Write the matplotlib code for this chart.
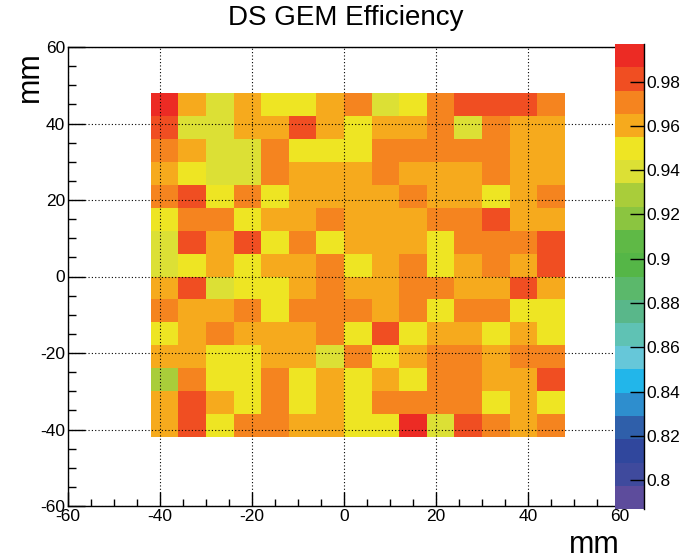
import matplotlib
matplotlib.use("Agg")
import matplotlib.pyplot as plt
import numpy as np
from matplotlib.colors import ListedColormap, BoundaryNorm
from matplotlib.ticker import MultipleLocator, FuncFormatter

plt.rcParams['font.family'] = ['Liberation Sans', 'DejaVu Sans']
plt.rcParams['axes.unicode_minus'] = False

# ---- data ----
x_bin_edges = [-42, -36, -30, -24, -18, -12, -6, 0, 6, 12, 18, 24, 30, 36, 42, 48]
y_bin_edges = [-42, -36, -30, -24, -18, -12, -6, 0, 6, 12, 18, 24, 30, 36, 42, 48]

# efficiency rows, listed from top (y 42..48) to bottom (y -42..-36)
row_y45 = [0.992, 0.960, 0.939, 0.960, 0.950, 0.950, 0.960, 0.971, 0.939, 0.950, 0.971, 0.981, 0.981, 0.981, 0.971]
row_y39 = [0.981, 0.939, 0.939, 0.960, 0.960, 0.981, 0.960, 0.950, 0.960, 0.960, 0.971, 0.939, 0.971, 0.960, 0.960]
row_y33 = [0.971, 0.960, 0.939, 0.939, 0.971, 0.950, 0.950, 0.950, 0.971, 0.971, 0.971, 0.971, 0.971, 0.960, 0.960]
row_y27 = [0.960, 0.950, 0.939, 0.939, 0.971, 0.960, 0.960, 0.960, 0.971, 0.960, 0.960, 0.960, 0.971, 0.960, 0.960]
row_y21 = [0.971, 0.981, 0.950, 0.971, 0.950, 0.960, 0.960, 0.960, 0.960, 0.971, 0.960, 0.960, 0.950, 0.960, 0.971]
row_y15 = [0.950, 0.971, 0.971, 0.950, 0.960, 0.960, 0.971, 0.960, 0.960, 0.960, 0.971, 0.971, 0.981, 0.960, 0.960]
row_y9 = [0.939, 0.981, 0.960, 0.981, 0.950, 0.971, 0.950, 0.960, 0.960, 0.960, 0.950, 0.971, 0.971, 0.971, 0.981]
row_y3 = [0.939, 0.950, 0.960, 0.950, 0.960, 0.960, 0.971, 0.950, 0.960, 0.971, 0.950, 0.960, 0.971, 0.960, 0.981]
row_ym3 = [0.960, 0.981, 0.939, 0.950, 0.950, 0.960, 0.971, 0.960, 0.960, 0.971, 0.971, 0.960, 0.960, 0.981, 0.960]
row_ym9 = [0.971, 0.960, 0.960, 0.971, 0.950, 0.971, 0.971, 0.971, 0.960, 0.971, 0.950, 0.971, 0.971, 0.950, 0.950]
row_ym15 = [0.950, 0.960, 0.971, 0.960, 0.960, 0.960, 0.971, 0.950, 0.981, 0.950, 0.960, 0.960, 0.950, 0.960, 0.950]
row_ym21 = [0.960, 0.960, 0.950, 0.950, 0.960, 0.960, 0.939, 0.971, 0.950, 0.960, 0.971, 0.971, 0.960, 0.971, 0.971]
row_ym27 = [0.929, 0.971, 0.950, 0.950, 0.971, 0.950, 0.960, 0.950, 0.960, 0.950, 0.971, 0.971, 0.960, 0.960, 0.981]
row_ym33 = [0.960, 0.981, 0.960, 0.950, 0.971, 0.950, 0.960, 0.950, 0.971, 0.971, 0.971, 0.971, 0.950, 0.960, 0.950]
row_ym39 = [0.960, 0.981, 0.950, 0.971, 0.971, 0.960, 0.960, 0.950, 0.950, 0.992, 0.939, 0.981, 0.971, 0.960, 0.971]

rows_top_to_bottom = [row_y45, row_y39, row_y33, row_y27, row_y21, row_y15, row_y9, row_y3,
                      row_ym3, row_ym9, row_ym15, row_ym21, row_ym27, row_ym33, row_ym39]

axis_ticks = [-60, -40, -20, 0, 20, 40, 60]
z_ticks = [0.8, 0.82, 0.84, 0.86, 0.88, 0.9, 0.92, 0.94, 0.96, 0.98]
z_min, z_max = 0.787, 0.997

palette = ['#5D4C9C', '#3F4A9D', '#30479D', '#2F5FAA', '#2E8ECE', '#22B6EA', '#66C7D9',
           '#5FC2B4', '#59B78A', '#5BB86B', '#55B647', '#5FB946', '#8BC540', '#A9CD3A',
           '#DCE035', '#EEE523', '#F6AA1D', '#F5841F', '#F04E22', '#EC2B24']

# ---- figure ----
W, H = 684, 559
fig = plt.figure(figsize=(W / 100, H / 100), dpi=100)
fig.patch.set_facecolor('white')

ax_l, ax_r, ax_t, ax_b = 68, 620, 47, 506
ax = fig.add_axes([ax_l / W, 1 - ax_b / H, (ax_r - ax_l) / W, (ax_b - ax_t) / H])

cmap = ListedColormap(palette)
levels = np.linspace(z_min, z_max, len(palette) + 1)
norm = BoundaryNorm(levels, len(palette))

Z = np.array(rows_top_to_bottom[::-1])
mesh = ax.pcolormesh(x_bin_edges, y_bin_edges, Z, cmap=cmap, norm=norm, zorder=1)

ax.set_xlim(-60, 60)
ax.set_ylim(-60, 60)
ax.set_xticks(axis_ticks)
ax.set_yticks(axis_ticks)
ax.xaxis.set_minor_locator(MultipleLocator(5))
ax.yaxis.set_minor_locator(MultipleLocator(5))
ax.tick_params(which='both', direction='in', top=False, right=False, width=1, colors='black',
               labelsize=12.5)
ax.tick_params(axis='x', which='major', length=10, pad=2)
ax.tick_params(axis='x', which='minor', length=5)
ax.tick_params(axis='y', which='major', length=12, pad=2)
ax.tick_params(axis='y', which='minor', length=6)
for s in ax.spines.values():
    s.set_linewidth(1)
ax.set_axisbelow(False)
ax.grid(True, which='major', color='black', linestyle=(0, (1, 2)), linewidth=0.8)

# colorbar
cb_l, cb_r, cb_t, cb_b = 615, 644, 44, 509
cax = fig.add_axes([cb_l / W, 1 - cb_b / H, (cb_r - cb_l) / W, (cb_b - cb_t) / H])
cax.set_zorder(5)
cb = fig.colorbar(mesh, cax=cax, ticks=z_ticks)
cb.outline.set_visible(False)
cax.plot([1, 1], [0, 1], transform=cax.transAxes, color='black', lw=1, clip_on=False)
cax.yaxis.set_ticks_position('right')
cax.tick_params(axis='y', direction='in', length=10, width=1, pad=2, labelsize=12.5)
cax.minorticks_off()
cax.yaxis.set_major_formatter(FuncFormatter(lambda v, p: f"{v:g}"))

# texts
fig.text(346 / W, 1 - 18 / H, "DS GEM Efficiency", ha='center', va='center', fontsize=20)
fig.text(30 / W, 1 - 77 / H, "mm", rotation=90, ha='center', va='center', fontsize=22)
fig.text(620 / W, 1 - 545 / H, "mm", ha='right', va='center', fontsize=22)

fig.savefig("out.png", dpi=100)
